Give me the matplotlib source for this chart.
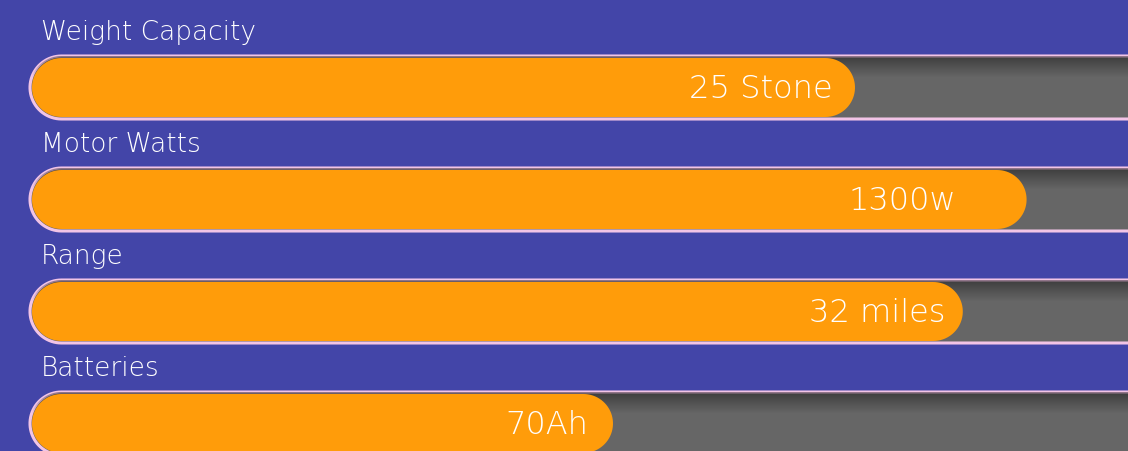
import numpy as np
import matplotlib.pyplot as plt
from matplotlib.patches import Polygon

# data (percent of the full track)
categories = ['Weight Capacity', 'Motor Watts', 'Range', 'Batteries']
values = [75.0, 90.6, 84.8, 53.0]
value_labels = ['25 Stone', '1300w', '32 miles', '70Ah']
label_pad = [2.0, 6.4, 1.6, 2.2]  # gap between bar end and its text, in %

bg = '#4345a8'
orange = '#ff9c0a'
track = '#666666'
edge = '#f2c4e6'

W, H = 1128, 451
fig = plt.figure(figsize=(W / 100, H / 100), dpi=100)
fig.patch.set_facecolor(bg)
ax = fig.add_axes([0, 0, 1, 1])
ax.set_facecolor(bg)
ax.axis('off')

# 1 x-unit = 11 px, 1 y-unit = 112 px
ax.set_xlim(-30 / 11, (W - 30) / 11)
ax.set_ylim((H - 87.5) / 112, -87.5 / 112)
px_x = 1 / 11
px_y = 1 / 112


def pill(x0, x1, yc, h):
    # stadium shape with round ends, in data units
    ry = h / 2
    rx = ry / px_y * px_x
    a = np.linspace(np.pi / 2, 3 * np.pi / 2, 40)
    left = np.column_stack([x0 + rx + rx * np.cos(a), yc - ry * np.sin(a)])
    b = np.linspace(-np.pi / 2, np.pi / 2, 40)
    right = np.column_stack([x1 - rx + rx * np.cos(b), yc - ry * np.sin(b)])
    return np.vstack([left, right])


font = ['DejaVu Sans']
h_track = 63 * px_y
h_fill = 59 * px_y

for i, (cat, v, lab, pad) in enumerate(zip(categories, values, value_labels, label_pad)):
    # track (runs off the right edge)
    t = Polygon(pill(0, 110, i, h_track), closed=True, fc=track, ec=edge,
                lw=2.2, zorder=1)
    ax.add_patch(t)
    # inner shadow at the top of the track
    grad = np.linspace(0, 1, 60)
    shade = np.clip(grad * 3, 0, 1)
    img = np.zeros((60, 1, 4))
    img[:, 0, 3] = 0.4 * (1 - shade)
    im = ax.imshow(img, extent=(0, 110, i + h_track / 2, i - h_track / 2),
                   aspect='auto', zorder=2, interpolation='bilinear')
    im.set_clip_path(t)
    # orange fill
    f = Polygon(pill(0.18, v, i, h_fill), closed=True, fc=orange, ec='none', zorder=3)
    ax.add_patch(f)
    ax.text(v - pad, i + 0.01, lab, ha='right', va='center', color='white',
            fontsize=23, family=font, fontweight='light', zorder=4)
    ax.text(1.0, i - 0.495, cat, ha='left', va='center', color='white',
            fontsize=19, family=font, fontweight='light', zorder=4)

fig.savefig('out.png', dpi=100, facecolor=bg)
